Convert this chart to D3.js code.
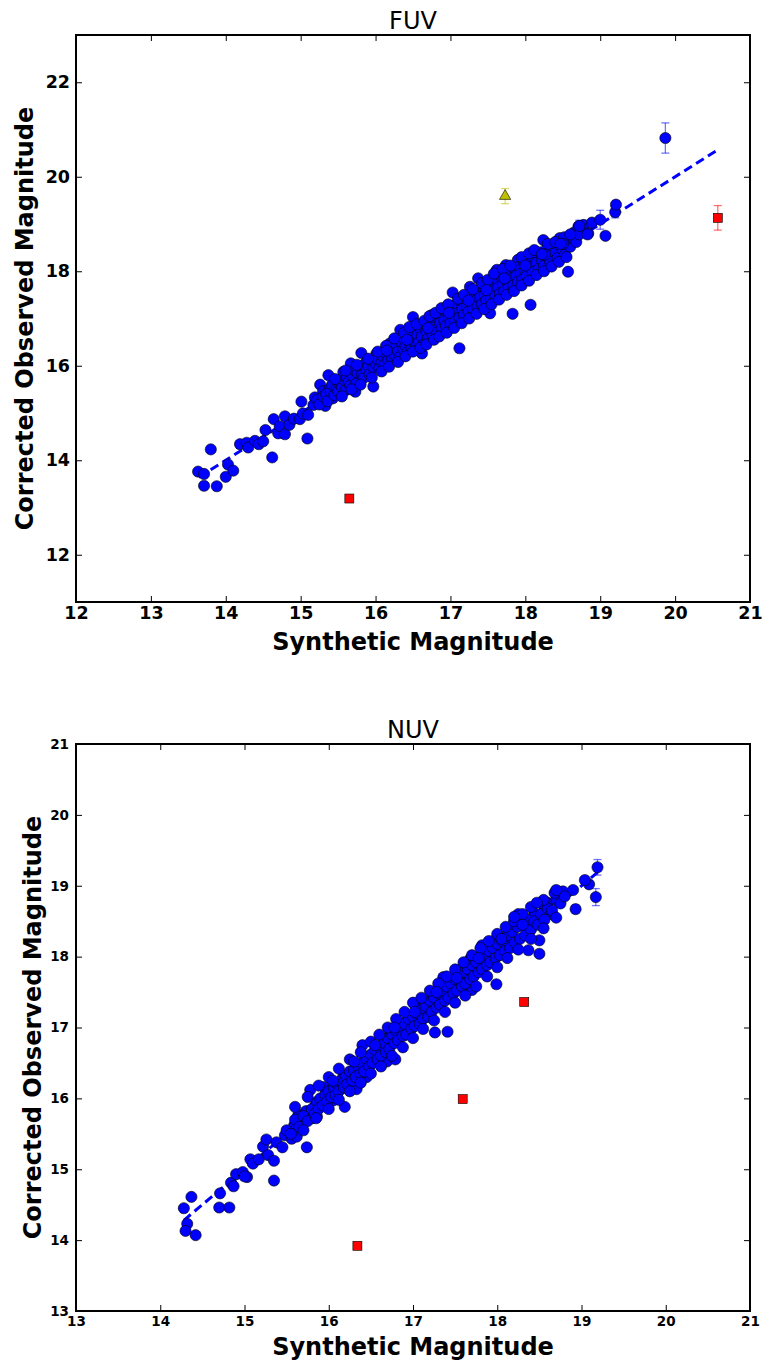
<!DOCTYPE html>
<html lang="en">
<head>
	<meta charset="utf-8"/>
	<title>FUV / NUV magnitudes</title>
	<script src="https://cdnjs.cloudflare.com/ajax/libs/d3/7.8.5/d3.min.js"></script>
	<style>
		body { margin: 0; background: #fff; }
		svg { display: block; font-family: "DejaVu Sans", sans-serif; }
	</style>
</head>
<body>
<svg id="chart" width="764" height="1364"></svg>
<script>
// ---- FUV panel data: [synthetic, corrected observed] ----
var fuvStars = [
	[13.63,13.76],[13.71,13.71],[13.71,13.46],[13.80,14.23],[13.88,13.45],[14.00,13.65],[14.03,13.91],[14.10,13.78],
	[14.19,14.34],[14.28,14.37],[14.30,14.27],[14.39,14.41],[14.44,14.34],[14.50,14.40],[14.53,14.64],[14.62,14.06],
	[14.64,14.87],[14.70,14.57],[14.72,14.72],[14.79,14.55],[14.79,14.93],[14.85,14.75],[14.91,14.88],[14.99,14.87],
	[15.01,15.24],[15.03,14.99],[15.09,14.46],[15.10,14.96],[15.17,15.17],[15.19,15.33],[15.26,15.60],[15.30,15.46],
	[15.33,15.15],[15.37,15.80],[15.39,15.52],[15.43,15.31],[15.50,15.70],[15.54,15.43],[15.57,15.87],[15.61,15.59],
	[15.67,16.05],[15.69,15.82],[15.73,15.45],[15.78,15.70],[15.81,16.27],[15.85,15.97],[15.89,15.87],[15.97,15.56],
	[16.01,16.25],[16.04,15.98],[16.06,16.23],[16.19,16.47],[16.33,16.76],[16.50,17.03],[16.62,16.26],[16.75,17.07],
	[16.91,17.21],[17.03,17.55],[17.12,16.37],[17.26,17.67],[17.37,17.85],[17.53,17.11],[17.62,18.03],[17.74,18.13],
	[17.83,17.10],[17.90,18.24],[18.07,17.29],[18.15,18.34],[18.24,18.66],[18.34,18.54],[18.46,18.70],[18.57,17.99],
	[18.65,18.82],[18.71,18.95],[18.78,18.98],[18.84,18.80],[18.89,19.03],
	[15.22,15.28],[15.25,15.18],[15.30,15.35],[15.34,15.40],[15.36,15.25],[15.40,15.45],[15.42,15.60],[15.45,15.38],
	[15.48,15.52],[15.50,15.46],[15.52,15.62],[15.55,15.55],[15.58,15.70],[15.60,15.48],[15.62,15.75],[15.64,15.66],
	[15.66,15.58],[15.70,15.78],[15.72,15.90],[15.74,15.62],[15.76,15.85],[15.80,15.95],[15.82,15.80],[15.84,15.74],
	[15.86,16.05],[15.88,15.92],[15.90,16.00],[15.92,15.82],[15.95,16.10],[15.97,15.96],[16.00,16.05],[16.02,16.15],
	[16.05,15.95],[16.08,16.08],[16.10,16.20],[16.12,16.02],[16.15,16.25],[16.17,16.12],[16.20,16.30],[16.22,16.15],
	[16.24,16.38],[16.26,16.22],[16.28,16.45],[16.30,16.30],[16.32,16.18],[16.35,16.50],[16.37,16.35],[16.40,16.42],
	[16.42,16.28],[16.44,16.60],[16.46,16.48],[16.48,16.38],[16.50,16.70],[16.52,16.55],[16.54,16.40],[16.56,16.65],
	[16.58,16.50],[16.60,16.78],[16.62,16.62],[16.64,16.45],[16.66,16.85],[16.68,16.72],[16.70,16.58],[16.72,16.90],
	[16.74,16.78],[16.76,16.65],[16.78,16.95],[16.80,16.82],[16.82,16.70],[16.84,17.05],[16.86,16.90],[16.88,16.78],
	[16.90,17.10],[16.92,16.95],[16.94,16.85],[16.96,17.15],[16.98,17.02],[17.00,16.90],[17.02,17.20],[17.04,17.08],
	[17.06,16.95],[17.08,17.30],[17.10,17.12],[17.12,17.02],[17.14,17.35],[17.16,17.20],[17.18,17.08],[17.20,17.40],
	[17.22,17.25],[17.24,17.15],[17.26,17.48],[17.28,17.32],[17.30,17.20],[17.32,17.55],[17.34,17.38],[17.36,17.25],
	[17.38,17.60],[17.40,17.45],[17.42,17.30],[17.44,17.65],[17.46,17.50],[17.48,17.38],[17.50,17.70],[17.52,17.55],
	[17.54,17.42],[17.56,17.75],[17.58,17.60],[17.60,17.48],[17.62,17.82],[17.64,17.66],[17.66,17.52],[17.68,17.88],
	[17.70,17.72],[17.72,17.58],[17.74,17.95],[17.76,17.78],[17.78,17.65],[17.80,18.00],[17.82,17.85],[17.84,17.70],
	[17.86,18.05],[17.88,17.90],[17.90,17.78],[17.92,18.10],[17.94,17.95],[17.96,17.82],[17.98,18.18],[18.00,18.02],
	[18.02,17.90],[18.05,18.25],[18.08,18.10],[18.10,17.98],[18.12,18.30],[18.15,18.18],[18.18,18.05],[18.20,18.40],
	[18.22,18.25],[18.25,18.12],[18.28,18.45],[18.30,18.32],[18.33,18.20],[18.36,18.50],[18.40,18.38],[18.43,18.28],
	[18.46,18.55],[18.50,18.45],[18.53,18.35],[18.56,18.62],[18.60,18.52],[18.63,18.70],[18.68,18.62],[18.72,18.78],
	// upper and lower edges of the band
	[15.46,15.72],[15.60,15.90],[15.75,16.02],[15.90,16.15],[16.03,16.30],[16.14,16.42],[16.25,16.58],[16.38,16.70],
	[16.45,16.82],[16.55,16.88],[16.65,16.95],[16.72,17.05],[16.80,17.12],[16.88,17.22],[16.97,17.30],[17.10,17.42],
	[17.18,17.50],[17.30,17.62],[17.42,17.75],[17.50,17.82],[17.58,17.95],[17.70,18.05],[17.80,18.12],[17.95,18.30],
	[18.05,18.38],[18.12,18.45],[18.30,18.58],[18.40,18.62],[18.52,18.72],[18.60,18.78],
	[15.55,15.35],[15.68,15.50],[15.80,15.60],[15.95,15.75],[16.08,15.88],[16.18,15.98],[16.30,16.08],[16.40,16.20],
	[16.50,16.30],[16.60,16.38],[16.68,16.45],[16.78,16.55],[16.85,16.62],[16.95,16.70],[17.05,16.80],[17.15,16.90],
	[17.25,17.00],[17.35,17.10],[17.45,17.20],[17.55,17.30],[17.65,17.40],[17.75,17.50],[17.85,17.58],[17.95,17.70],
	[18.05,17.80],[18.15,17.92],[18.25,18.00],[18.35,18.10],[18.45,18.20],[18.55,18.30],
	[16.15,16.32],[16.42,16.55],[16.70,16.80],[16.98,17.12],[17.24,17.38],[17.48,17.60],[17.72,17.85],[18.00,18.12],
	[18.26,18.35],[18.50,18.58]
];
// points whose error bars show: [synthetic, observed, error]
var fuvStarsErr = [
	[18.22,18.36,0.08],[18.47,18.58,0.07],[18.72,18.96,0.12],[18.83,18.78,0.09],[19.00,19.09,0.20],
	[19.07,18.75,0.07],[19.20,19.25,0.12],[19.21,19.41,0.08],[19.87,20.82,0.32]
];
var fuvRed = [[15.65,13.19,0],[20.57,19.13,0.26]];
var fuvYellow = [[17.73,19.59,0.16]];
var fuvFitX = [13.64, 20.57];
var fuvXTicks = [12,13,14,15,16,17,18,19,20,21];
var fuvYTicks = [12,14,16,18,20,22];

// ---- NUV panel data ----
var nuvStars = [
	[14.28,14.45],[14.37,14.61],[14.32,14.23],[14.30,14.13],[14.42,14.07],[14.71,14.66],[14.70,14.46],[14.82,14.46],
	[14.84,14.81],[14.87,14.76],[14.90,14.93],[14.98,14.96],[15.03,14.89],[15.00,14.90],[15.07,15.14],[15.10,15.08],
	[15.17,15.14],[15.22,15.32],[15.26,15.42],[15.28,15.20],[15.35,14.84],[15.35,15.12],[15.38,15.38],[15.45,15.31],
	[15.48,15.48],[15.56,15.43],[15.59,15.62],[15.62,15.46],[15.64,15.77],[15.68,15.63],[15.74,15.31],[15.73,15.82],
	[15.78,16.12],[15.80,15.72],[15.86,15.74],[15.84,15.90],[15.94,16.16],[15.92,15.97],[15.99,16.04],[16.05,15.97],
	[16.08,16.12],[16.19,15.88],[16.17,16.30],[16.15,16.21],[16.25,16.23],[16.33,16.13],[16.33,16.49],[16.40,16.75],
	[16.41,16.39],[16.50,16.54],[16.45,16.30],[16.60,16.59],[16.69,16.52],[16.65,16.66],[16.71,16.87],[16.79,16.55],
	[16.84,16.93],[16.90,17.07],[17.02,17.34],[17.26,16.93],[17.41,16.94],[17.36,17.71],[17.54,17.81],[17.70,17.53],
	[17.68,17.97],[17.82,18.16],[17.99,17.61],[17.97,18.23],[18.10,18.23],[18.25,18.60],[18.37,18.09],[18.44,18.61],
	[18.50,18.23],[18.50,18.04],[18.54,18.74],[18.60,18.76],[18.65,18.60],[18.78,18.92],[18.90,18.94],[19.09,19.02],
	[15.50,15.55],[15.55,15.50],[15.60,15.70],[15.65,15.60],[15.70,15.75],[15.75,15.68],[15.80,15.85],[15.83,15.78],
	[15.86,15.95],[15.88,15.85],[15.90,16.00],[15.93,15.90],[15.96,16.05],[15.98,15.95],[16.00,16.10],[16.03,16.02],
	[16.06,16.15],[16.08,16.05],[16.10,16.20],[16.12,16.10],[16.15,16.25],[16.18,16.15],[16.20,16.32],[16.22,16.20],
	[16.25,16.38],[16.28,16.25],[16.30,16.40],[16.32,16.30],[16.35,16.45],[16.38,16.35],[16.40,16.50],[16.42,16.38],
	[16.45,16.55],[16.48,16.45],[16.50,16.62],[16.52,16.50],[16.55,16.68],[16.58,16.55],[16.60,16.72],[16.62,16.60],
	[16.65,16.78],[16.68,16.65],[16.70,16.85],[16.72,16.70],[16.75,16.90],[16.78,16.78],[16.80,16.95],[16.82,16.82],
	[16.85,17.00],[16.88,16.88],[16.90,17.05],[16.92,16.90],[16.95,17.12],[16.98,16.98],[17.00,17.15],[17.02,17.02],
	[17.05,17.20],[17.08,17.05],[17.10,17.25],[17.12,17.12],[17.15,17.30],[17.18,17.15],[17.20,17.38],[17.22,17.22],
	[17.25,17.42],[17.28,17.28],[17.30,17.48],[17.32,17.32],[17.35,17.52],[17.38,17.38],[17.40,17.58],[17.42,17.42],
	[17.45,17.62],[17.48,17.48],[17.50,17.68],[17.52,17.52],[17.55,17.72],[17.58,17.58],[17.60,17.78],[17.62,17.62],
	[17.65,17.82],[17.68,17.68],[17.70,17.88],[17.72,17.72],[17.75,17.92],[17.78,17.78],[17.80,17.98],[17.82,17.82],
	[17.85,18.02],[17.88,17.88],[17.90,18.08],[17.92,17.92],[17.95,18.12],[17.98,17.98],[18.00,18.18],[18.03,18.02],
	[18.06,18.22],[18.09,18.08],[18.12,18.30],[18.15,18.12],[18.18,18.35],[18.21,18.20],[18.24,18.42],[18.27,18.25],
	[18.30,18.45],[18.33,18.30],[18.36,18.52],[18.40,18.38],[18.44,18.50],[18.48,18.45],[18.52,18.60],[18.56,18.52],
	[18.60,18.68],[18.65,18.65],[18.70,18.80],[18.75,18.75],[18.80,18.85],
	// upper and lower edges of the band
	[15.60,15.88],[15.75,16.02],[15.88,16.18],[16.00,16.30],[16.12,16.42],[16.25,16.55],[16.38,16.65],[16.50,16.80],
	[16.60,16.90],[16.70,17.00],[16.80,17.12],[16.90,17.22],[17.00,17.35],[17.10,17.42],[17.20,17.52],[17.30,17.62],
	[17.40,17.72],[17.50,17.82],[17.60,17.92],[17.70,18.02],[17.80,18.12],[17.90,18.22],[18.00,18.32],[18.10,18.42],
	[18.20,18.50],[18.30,18.60],[18.40,18.70],[18.55,18.80],[18.68,18.90],
	[15.70,15.55],[15.85,15.72],[16.00,15.85],[16.12,15.98],[16.25,16.10],[16.38,16.22],[16.50,16.35],[16.62,16.45],
	[16.75,16.60],[16.88,16.72],[17.00,16.85],[17.12,16.98],[17.25,17.10],[17.38,17.22],[17.50,17.35],[17.62,17.45],
	[17.75,17.58],[17.88,17.72],[18.00,17.85],[18.12,17.98],[18.25,18.10],[18.40,18.25],[18.55,18.40],[18.70,18.55],
	[16.05,16.25],[16.30,16.52],[16.55,16.75],[16.78,17.00],[17.02,17.22],[17.28,17.50],[17.52,17.70],[17.78,17.98],
	[18.05,18.25],[18.30,18.45]
];
var nuvStarsErr = [
	[18.20,18.56,0.05],[18.47,18.76,0.05],[18.70,18.94,0.05],[18.93,18.67,0.06],
	[19.04,19.08,0.05],[19.17,18.84,0.12],[19.19,19.26,0.11]
];
var nuvRed = [[16.34,13.92,0],[17.59,15.99,0],[18.32,17.36,0]];
var nuvFitX = [14.28, 19.19];
var nuvXTicks = [13,14,15,16,17,18,19,20,21];
var nuvYTicks = [13,14,15,16,17,18,19,20,21];

var svg = d3.select("#chart");

function drawPanel(cfg) {
	var g = svg.append("g");
	var x = d3.scaleLinear().domain(cfg.xDomain).range([76, 750]);
	var y = d3.scaleLinear().domain(cfg.yDomain).range([cfg.bottom, cfg.top]);

	// one-to-one line, dashed
	g.append("line")
		.attr("x1", x(cfg.fitX[0])).attr("y1", y(cfg.fitX[0]))
		.attr("x2", x(cfg.fitX[1])).attr("y2", y(cfg.fitX[1]))
		.attr("stroke", "#0000ff").attr("stroke-width", 3)
		.attr("stroke-dasharray", "9,5");

	function errbars(data, color) {
		var eg = g.append("g").attr("stroke", color).attr("stroke-opacity", 0.55).attr("stroke-width", 1.3);
		data.filter(function(d) { return d[2] > 0; }).forEach(function(d) {
			var cx = x(d[0]);
			eg.append("line").attr("x1", cx).attr("x2", cx).attr("y1", y(d[1] - d[2])).attr("y2", y(d[1] + d[2]));
			eg.append("line").attr("x1", cx - 4).attr("x2", cx + 4).attr("y1", y(d[1] - d[2])).attr("y2", y(d[1] - d[2]));
			eg.append("line").attr("x1", cx - 4).attr("x2", cx + 4).attr("y1", y(d[1] + d[2])).attr("y2", y(d[1] + d[2]));
		});
	}

	var allBlue = cfg.stars.concat(cfg.starsErr);
	errbars(cfg.starsErr, "#0000ff");

	g.append("g").selectAll("circle")
		.data(allBlue)
		.enter().append("circle")
		.attr("cx", function(d) { return x(d[0]); })
		.attr("cy", function(d) { return y(d[1]); })
		.attr("r", 5.6)
		.attr("fill", "#0000ff")
		.attr("stroke", "#000").attr("stroke-width", 0.6);

	errbars(cfg.red, "#ff0000");
	g.append("g").selectAll("rect")
		.data(cfg.red)
		.enter().append("rect")
		.attr("x", function(d) { return x(d[0]) - 4.5; })
		.attr("y", function(d) { return y(d[1]) - 4.5; })
		.attr("width", 9).attr("height", 9)
		.attr("fill", "#ff0000")
		.attr("stroke", "#000").attr("stroke-width", 0.6);

	if (cfg.yellow) {
		errbars(cfg.yellow, "#bfbf00");
		g.append("g").selectAll("path")
			.data(cfg.yellow)
			.enter().append("path")
			.attr("d", d3.symbol().type(d3.symbolTriangle).size(55))
			.attr("transform", function(d) { return "translate(" + x(d[0]) + "," + y(d[1]) + ")"; })
			.attr("fill", "#bfbf00")
			.attr("stroke", "#000").attr("stroke-width", 0.6);
	}

	// axes, ticks pointing inward on all four sides
	var fs = cfg.tickFont;
	var ax = g.append("g").attr("transform", "translate(0," + cfg.bottom + ")")
		.call(d3.axisBottom(x).tickValues(cfg.xTicks).tickSize(-6).tickPadding(5).tickFormat(d3.format("d")));
	var ay = g.append("g").attr("transform", "translate(76,0)")
		.call(d3.axisLeft(y).tickValues(cfg.yTicks).tickSize(-6).tickPadding(cfg.yPad).tickFormat(d3.format("d")));
	var at = g.append("g").attr("transform", "translate(0," + cfg.top + ")")
		.call(d3.axisTop(x).tickValues(cfg.xTicks).tickSize(-6).tickFormat(""));
	var ar = g.append("g").attr("transform", "translate(750,0)")
		.call(d3.axisRight(y).tickValues(cfg.yTicks).tickSize(-6).tickFormat(""));
	[ax, ay, at, ar].forEach(function(a) {
		a.select(".domain").remove();
		a.selectAll("line").attr("stroke", "#000").attr("stroke-width", 1);
		a.selectAll("text").attr("fill", "#000")
			.style("font-family", "'DejaVu Sans', sans-serif")
			.style("font-size", fs + "px").style("font-weight", "bold");
	});

	// frame
	g.append("rect")
		.attr("x", 76).attr("y", cfg.top)
		.attr("width", 750 - 76).attr("height", cfg.bottom - cfg.top)
		.attr("fill", "none").attr("stroke", "#000").attr("stroke-width", 2);

	g.append("text")
		.attr("x", 413).attr("y", cfg.top - 6)
		.attr("text-anchor", "middle")
		.style("font-size", "24px")
		.text(cfg.title);

	g.append("text")
		.attr("x", 413).attr("y", cfg.xLabelY)
		.attr("text-anchor", "middle")
		.style("font-size", "24px").style("font-weight", "bold")
		.text("Synthetic Magnitude");

	g.append("text")
		.attr("transform", "translate(" + cfg.yLabelX + "," + ((cfg.top + cfg.bottom) / 2) + ") rotate(-90)")
		.attr("text-anchor", "middle")
		.style("font-size", "24px").style("font-weight", "bold")
		.text("Corrected Observed Magnitude");
}

drawPanel({
	title: "FUV", top: 35, bottom: 602,
	xDomain: [12, 21], yDomain: [11, 23],
	xTicks: fuvXTicks, yTicks: fuvYTicks,
	stars: fuvStars, starsErr: fuvStarsErr, red: fuvRed, yellow: fuvYellow,
	fitX: fuvFitX, tickFont: 17.5, yPad: 6,
	xLabelY: 650, yLabelX: 33
});

drawPanel({
	title: "NUV", top: 744, bottom: 1311,
	xDomain: [13, 21], yDomain: [13, 21],
	xTicks: nuvXTicks, yTicks: nuvYTicks,
	stars: nuvStars, starsErr: nuvStarsErr, red: nuvRed, yellow: null,
	fitX: nuvFitX, tickFont: 13.5, yPad: 7,
	xLabelY: 1355, yLabelX: 41
});
</script>
</body>
</html>
